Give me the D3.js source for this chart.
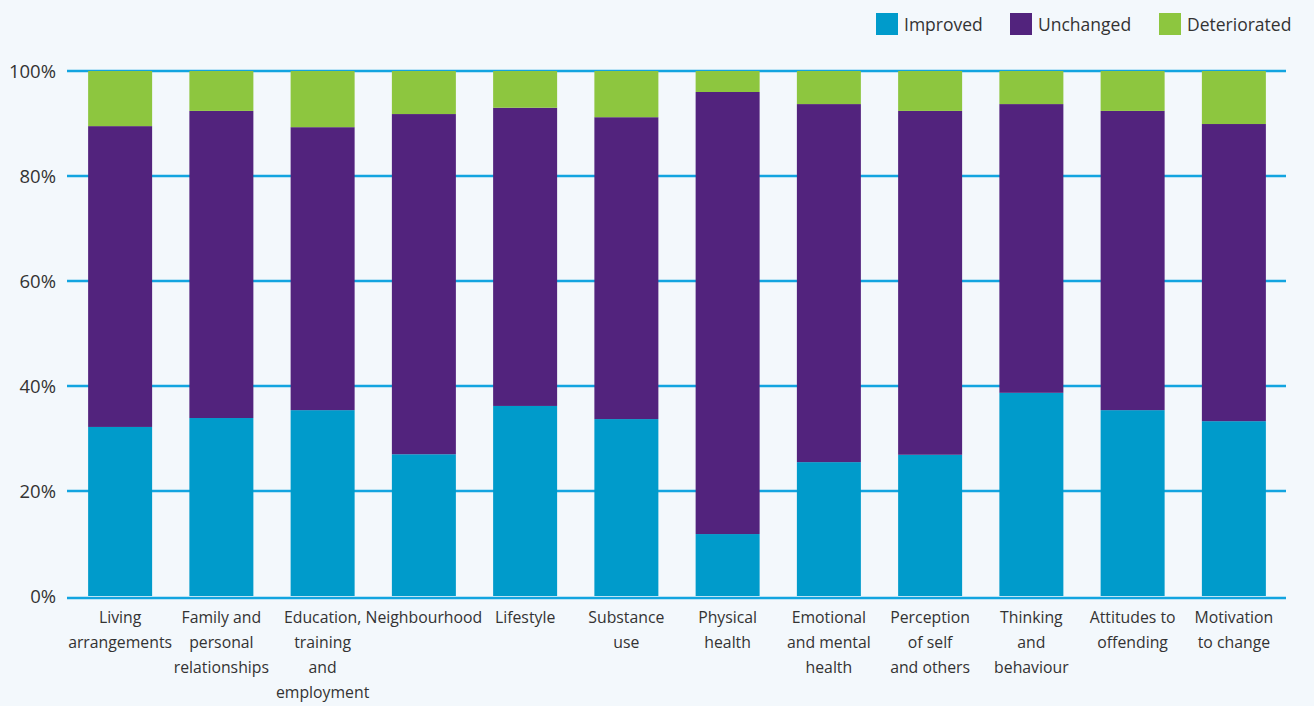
<!DOCTYPE html>
<html>
<head>
<meta charset="utf-8">
<script src="https://cdn.jsdelivr.net/npm/d3@7"></script>
<style>
  html, body { margin: 0; padding: 0; background: #f3f8fc; }
  svg { display: block; }
  text { font-family: "Open Sans", "Noto Sans", sans-serif; fill: #333; }
</style>
</head>
<body>
<svg id="chart" width="1314" height="706"></svg>
<script>
const categories = [
  "Living arrangements",
  "Family and personal relationships",
  "Education, training and employment",
  "Neighbourhood",
  "Lifestyle",
  "Substance use",
  "Physical health",
  "Emotional and mental health",
  "Perception of self and others",
  "Thinking and behaviour",
  "Attitudes to offending",
  "Motivation to change"
];
const categoryLines = [
  ["Living", "arrangements"],
  ["Family and", "personal", "relationships"],
  ["Education,", "training", "and", "employment"],
  ["Neighbourhood"],
  ["Lifestyle"],
  ["Substance", "use"],
  ["Physical", "health"],
  ["Emotional", "and mental", "health"],
  ["Perception", "of self", "and others"],
  ["Thinking", "and", "behaviour"],
  ["Attitudes to", "offending"],
  ["Motivation", "to change"]
];
const improved     = [32.2, 33.9, 35.4, 27.0, 36.2, 33.7, 11.8, 25.5, 26.9, 38.7, 35.4, 33.3];
const unchanged    = [57.3, 58.5, 53.9, 64.8, 56.8, 57.5, 84.2, 68.2, 65.5, 55.0, 57.0, 56.6];
const deteriorated = [10.5,  7.6, 10.7,  8.2,  7.0,  8.8,  4.0,  6.3,  7.6,  6.3,  7.6, 10.1];
const seriesNames = ["Improved", "Unchanged", "Deteriorated"];
const seriesColors = ["#009bcb", "#52237d", "#8dc63f"];
const yTicks = [0, 20, 40, 60, 80, 100];

const svg = d3.select("#chart");
const x = d3.scaleBand().domain(categories).range([69.5, 1284.5]).paddingInner(0.368).paddingOuter(0.184);
const y = d3.scaleLinear().domain([0, 100]).range([596, 71]);

const table = categories.map((c, i) => ({
  category: c,
  Improved: improved[i],
  Unchanged: unchanged[i],
  Deteriorated: deteriorated[i]
}));
const stacked = d3.stack().keys(seriesNames)(table);
const color = d3.scaleOrdinal().domain(seriesNames).range(seriesColors);

// gridlines
svg.append("g").selectAll("line").data(yTicks).join("line")
  .attr("x1", 67).attr("x2", 1286)
  .attr("y1", d => d === 0 ? y(d) + 2 : y(d))
  .attr("y2", d => d === 0 ? y(d) + 2 : y(d))
  .attr("stroke", "#12a4e0").attr("stroke-width", 2.5);

// y labels
const yAxis = d3.axisLeft(y).tickValues(yTicks).tickFormat(d => d + "%").tickSize(0).tickPadding(0);
const ya = svg.append("g").attr("transform", "translate(56,0)").call(yAxis);
ya.select(".domain").remove();
ya.selectAll("text").attr("font-size", 18.5).attr("fill", "#333")
  .style("font-family", '"Open Sans", "Noto Sans", sans-serif')
  .attr("dy", "0.36em");

// bars
svg.append("g").selectAll("g").data(stacked).join("g")
  .attr("fill", d => color(d.key))
  .selectAll("rect").data(d => d).join("rect")
  .attr("x", d => x(d.data.category))
  .attr("width", x.bandwidth())
  .attr("y", d => y(d[1]))
  .attr("height", d => y(d[0]) - y(d[1]));

// x labels
const xl = svg.append("g");
categories.forEach((c, i) => {
  const t = xl.append("text")
    .attr("x", x(c) + x.bandwidth() / 2)
    .attr("y", 623)
    .attr("text-anchor", "middle")
    .attr("font-size", 15.8);
  categoryLines[i].forEach((line, j) => {
    t.append("tspan").attr("x", x(c) + x.bandwidth() / 2)
      .attr("dy", j === 0 ? 0 : 25).text(line);
  });
});

// legend
const legendX = [876, 1010, 1159];
const lg = svg.append("g");
seriesNames.forEach((s, i) => {
  lg.append("rect").attr("x", legendX[i]).attr("y", 13).attr("width", 22).attr("height", 22)
    .attr("fill", seriesColors[i]);
  lg.append("text").attr("x", legendX[i] + 28).attr("y", 25).attr("dy", "0.35em")
    .attr("font-size", 17.5).text(s);
});
</script>
</body>
</html>
